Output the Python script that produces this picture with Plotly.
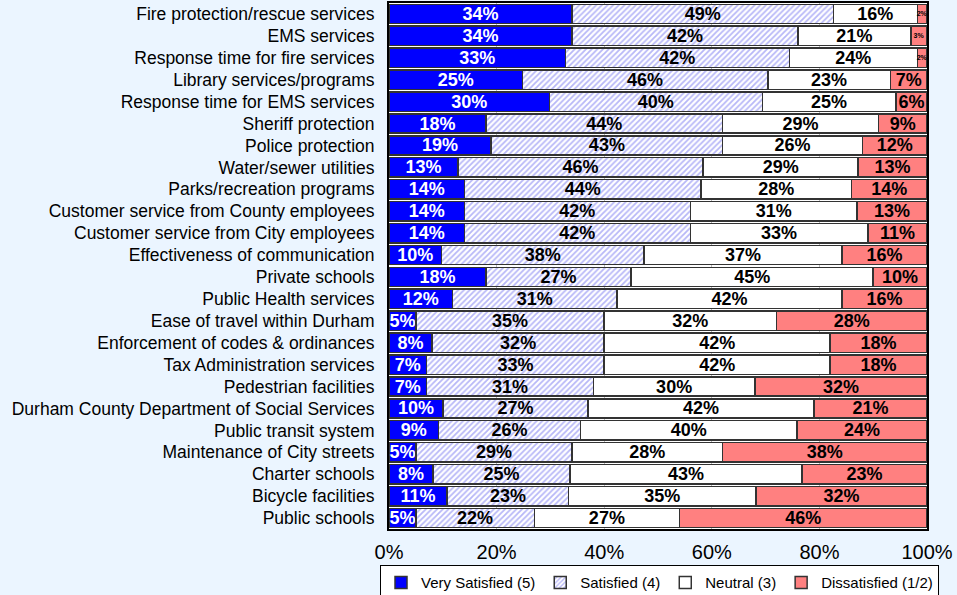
import plotly.graph_objects as go

categories = [
    "Fire protection/rescue services", "EMS services", "Response time for fire services",
    "Library services/programs", "Response time for EMS services", "Sheriff protection",
    "Police protection", "Water/sewer utilities", "Parks/recreation programs",
    "Customer service from County employees", "Customer service from City employees",
    "Effectiveness of communication", "Private schools", "Public Health services",
    "Ease of travel within Durham", "Enforcement of codes & ordinances",
    "Tax Administration services", "Pedestrian facilities",
    "Durham County Department of Social Services", "Public transit system",
    "Maintenance of City streets", "Charter schools", "Bicycle facilities", "Public schools",
]
very_satisfied = [34, 34, 32.8, 24.8, 29.8, 18, 19, 12.8, 14, 14, 14, 9.8, 18, 11.8,
                  5, 8, 7, 7, 10, 9.2, 5, 8.2, 10.8, 5]
satisfied = [48.6, 42, 41.6, 45.6, 39.6, 44, 43, 45.6, 44, 42, 42, 37.6, 27, 30.6,
             35, 32, 33, 31, 27, 26.4, 29, 25.4, 22.6, 22]
neutral = [15.6, 21, 23.8, 22.8, 24.8, 29, 26, 28.8, 28, 31, 33, 36.8, 45, 41.8,
           32, 42, 42, 30, 42, 40.2, 28, 43.2, 34.8, 27]
dissatisfied = [1.8, 3, 1.8, 6.8, 5.8, 9, 12, 12.8, 14, 13, 11, 15.8, 10, 15.8,
                28, 18, 18, 32, 21, 24.2, 38, 23.2, 31.8, 46]
series_names = ["Very Satisfied (5)", "Satisfied (4)", "Neutral (3)", "Dissatisfied (1/2)"]
tick_vals = [0, 20, 40, 60, 80, 100]
tick_text = ["0%", "20%", "40%", "60%", "80%", "100%"]

FONT = "Liberation Sans, Arial, sans-serif"

fig = go.Figure()
styles = [
    dict(marker=dict(color="#0000FF", line=dict(color="#333333", width=1.5)), tc="white"),
    dict(marker=dict(color="white", line=dict(color="#333333", width=1.5),
                     pattern=dict(shape="/", fgcolor="#7070f0", bgcolor="white", size=4, solidity=0.45)), tc="black"),
    dict(marker=dict(color="white", line=dict(color="#333333", width=1.5)), tc="black"),
    dict(marker=dict(color="#FF8080", line=dict(color="#333333", width=1.5)), tc="black"),
]
for name, vals, st in zip(series_names, [very_satisfied, satisfied, neutral, dissatisfied], styles):
    fig.add_trace(go.Bar(
        y=categories, x=vals, name=name, orientation="h",
        marker=st["marker"],
        text=[f"{round(v)}%" for v in vals],
        textposition="inside", insidetextanchor="middle", constraintext="none",
        textangle=0,
        textfont=dict(family=FONT, size=[7 if v < 4 else 18 for v in vals],
                      color=st["tc"], weight="bold"),
        hoverinfo="x+y",
    ))

fig.update_layout(
    barmode="stack", bargap=0.12,
    width=957, height=595,
    margin=dict(l=389, r=30, t=3, b=66, autoexpand=False),
    paper_bgcolor="#EBF5FF", plot_bgcolor="white",
    font=dict(family=FONT, color="black"),
    showlegend=True,
    legend=dict(orientation="h", x=-0.0167, xanchor="left", y=-0.069, yanchor="top",
                bgcolor="white", bordercolor="black", borderwidth=1,
                font=dict(family=FONT, size=15), traceorder="normal",
                itemwidth=30, tracegroupgap=0),
)
fig.update_xaxes(range=[0, 100], tickvals=tick_vals, ticktext=tick_text,
                 tickfont=dict(family=FONT, size=20), showgrid=True, gridcolor="#bbbbbb",
                 showline=True, linecolor="black", linewidth=2, mirror=True, zeroline=False,
                 ticklabelstandoff=4, fixedrange=True)
fig.update_yaxes(autorange="reversed", tickfont=dict(family=FONT, size=17.5),
                 showline=True, linecolor="black", linewidth=2, mirror=True,
                 ticklabelstandoff=9, fixedrange=True)

fig.write_html("out.html", post_script="document.body.style.margin='0';",
               config={"displayModeBar": False})
